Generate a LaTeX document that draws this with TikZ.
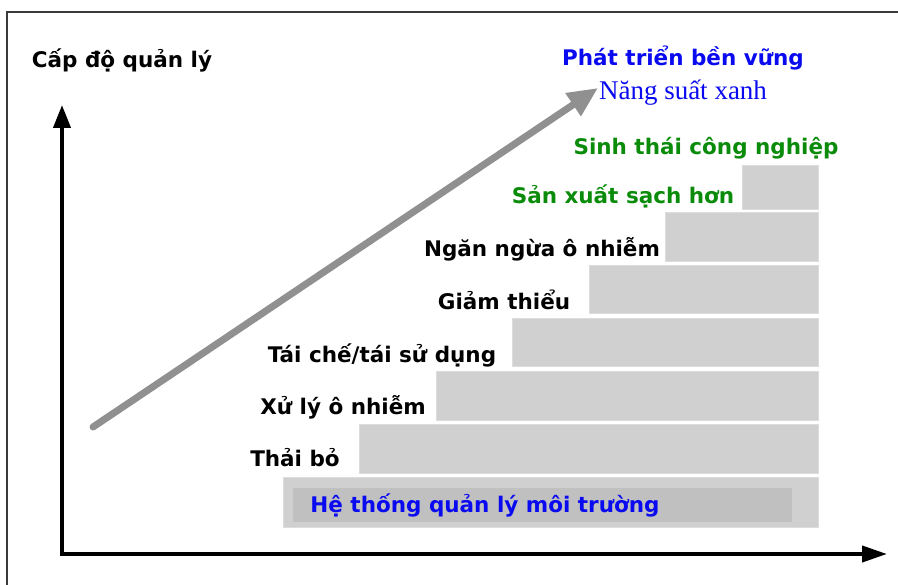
\documentclass[tikz,border=0pt]{standalone}
\usepackage{fontspec}
\usetikzlibrary{arrows.meta}
\newfontfamily\lblfont{DejaVu Sans}
\newfontfamily\serfont{Liberation Serif}
\definecolor{stepgray}{HTML}{D0D0D0}
\definecolor{stepedge}{HTML}{DCDCDC}
\definecolor{innergray}{HTML}{C0C0C0}
\definecolor{trendgray}{HTML}{909090}
\definecolor{lblblue}{RGB}{10,10,240}
\definecolor{lblgreen}{RGB}{10,140,10}
\definecolor{framegray}{HTML}{3A3A3A}
\tikzset{
  stepbox/.style={fill=stepgray, draw=stepedge, line width=1pt},
  lbl/.style={anchor=base, inner sep=0pt, font=\lblfont\bfseries\fontsize{21.5}{26}\selectfont},
  axis/.style={line width=4pt, black, line join=miter},
}
\begin{document}
\begin{tikzpicture}[x=1pt,y=-1pt]
\useasboundingbox (0,0) rectangle (898,585);
\fill[white] (0,0) rectangle (898,585);
% outer frame (open on the right and at the bottom)
\draw[framegray, line width=1.5pt] (7,585) -- (7,12) -- (898,12);

% staircase of steps
\path[stepbox] (283,478) rectangle (818,528);
\fill[innergray] (293,488) rectangle (792,522);
\path[stepbox] (359,425) rectangle (818,474);
\path[stepbox] (436,372) rectangle (818,421);
\path[stepbox] (512,319) rectangle (818,367);
\path[stepbox] (589,266) rectangle (818,314);
\path[stepbox] (665,213) rectangle (818,262);
\path[stepbox] (742,166) rectangle (818,210);

% axes
\coordinate (origin) at (62,554);
\coordinate (ytip) at (62,105);
\coordinate (xtip) at (887,554);
\draw[axis, {Triangle[length=23pt,width=17pt]}-{Triangle[length=25pt,width=16pt]}] (ytip) -- (origin) -- (xtip);

% rising trend arrow
\coordinate (trendstart) at (93,427);
\coordinate (trendtip) at (598,88);
\draw[trendgray, line width=7pt, line cap=round, -{Triangle[length=30pt,width=26pt]}] (trendstart) -- (trendtip);

% labels (placed by the centre of their baseline)
\node[lbl] (level) at (122,68) {Cấp độ quản lý};
\node[lbl, text=lblblue] (sustain) at (683,66) {Phát triển bền vững};
\node[anchor=base, inner sep=0pt, text=lblblue, font=\serfont\fontsize{27}{31}\selectfont] (greenprod) at (683,100) {Năng suất xanh};
\node[lbl, text=lblgreen] (ecology) at (706,155) {Sinh thái công nghiệp};
\node[lbl, text=lblgreen] (cleaner) at (623,204) {Sản xuất sạch hơn};
\node[lbl] (prevent) at (542,257) {Ngăn ngừa ô nhiễm};
\node[lbl] (minimize) at (504,310) {Giảm thiểu};
\node[lbl] (recycle) at (382,363) {Tái chế/tái sử dụng};
\node[lbl] (treat) at (343,415) {Xử lý ô nhiễm};
\node[lbl] (dispose) at (295,467) {Thải bỏ};
\node[lbl, text=lblblue] (ems) at (485,512) {Hệ thống quản lý môi trường};
\end{tikzpicture}
\end{document}
